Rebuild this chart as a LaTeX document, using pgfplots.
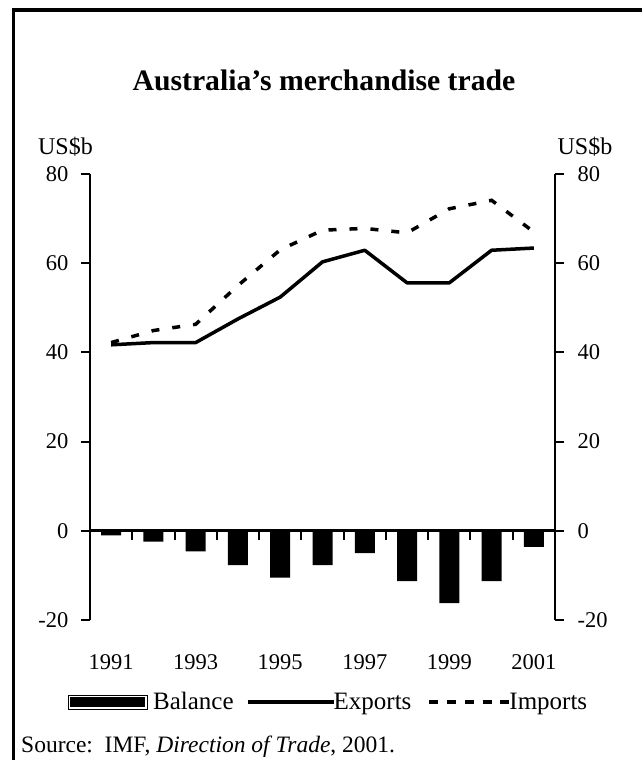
\documentclass[border=0pt]{standalone}
\usepackage{fontspec}
\setmainfont{Liberation Serif}
\usepackage{pgfplots}
\usepackage{pgfplotstable}
\pgfplotsset{compat=1.18}

\pgfplotstableread{
x bal exp imp
0 -1.0 41.7 42.2
1 -2.4 42.2 44.9
2 -4.6 42.2 46.3
3 -7.7 47.5 55.0
4 -10.5 52.4 63.0
5 -7.7 60.3 67.4
6 -5.0 62.9 67.8
7 -11.3 55.6 66.8
8 -16.2 55.6 72.2
9 -11.3 62.9 74.1
10 -3.6 63.4 67.0
}\datatable

\newcommand\rf{\fontsize{22.5}{27}\selectfont}
\newcommand\lf{\fontsize{25}{30}\selectfont}

\pgfplotsset{
  base/.style={
    scale only axis, width=465pt, height=446pt,
    at={(90pt,140pt)}, anchor=south west,
    xmin=-0.5, xmax=10.5, ymin=-20, ymax=80,
    /pgf/number format/assume math mode=true,
    tick label style={font=\rf},
    major tick length=9pt, tick align=outside,
    axis line style={line width=2pt},
    tick style={black, line width=2pt},
  }
}

\begin{document}
\begin{tikzpicture}[x=1pt,y=1pt]
\useasboundingbox (0,0) rectangle (642,760);
\draw[line width=3.5pt] (13.3,-2) -- (13.3,750) -- (644,750);

% zero line with category separators
\begin{axis}[base, axis x line*=middle, axis y line=none,
  xtick={0.5,1.5,2.5,3.5,4.5,5.5,6.5,7.5,8.5,9.5}, xticklabels={},
  axis line style={line width=2.6pt}]
\end{axis}

% right axis
\begin{axis}[base, axis y line*=right, axis x line=none,
  ytick={-20,0,20,40,60,80}, yticklabel style={xshift=10pt}]
\end{axis}

% main axis
\begin{axis}[base, axis y line*=left, axis x line*=bottom,
  x axis line style={draw=none}, xtick style={draw=none},
  xtick={0,2,4,6,8,10}, xticklabels={1991,1993,1995,1997,1999,2001},
  xticklabel style={yshift=-22pt},
  ytick={-20,0,20,40,60,80}, yticklabel style={xshift=-9pt},
  legend columns=3,
  legend style={draw=none, fill=none, font=\lf,
    at={(0.513,-0.184)}, anchor=center,
    /tikz/every even column/.append style={column sep=12pt}},
]
\addplot[ybar, bar width=20pt, fill=black, draw=none,
  legend image code/.code={
    \path[draw=none, fill=none] (0pt,-7pt) rectangle (83pt,7pt);
    \draw[black, line width=0.6pt, fill=none] (0pt,-7pt) rectangle (79pt,7pt);
    \fill[black, draw=none] (1.8pt,-5.2pt) rectangle (77.2pt,5.2pt);
  }] table[x=x,y=bal]{\datatable};
\addlegendentry{Balance}
\addplot[black, line width=3.5pt, line join=round,
  legend image code/.code={
    \path[draw=none, fill=none] (0pt,-7pt) rectangle (84pt,7pt);
    \draw[black, line width=3.5pt, solid, overlay] (0pt,0pt) -- (86pt,0pt);
  }] table[x=x,y=exp]{\datatable};
\addlegendentry{Exports}
\addplot[black, line width=3.5pt, dash pattern=on 8pt off 13pt,
  legend image code/.code={
    \path[draw=none, fill=none] (-4pt,-7pt) rectangle (78pt,7pt);
    \draw[black, line width=3.5pt, dash pattern=on 9pt off 8.75pt, overlay] (0pt,0pt) -- (80pt,0pt);
  }] table[x=x,y=imp]{\datatable};
\addlegendentry{Imports}
\end{axis}

\node[font=\bfseries\fontsize{29.7}{35}\selectfont, anchor=base] at (324,669) {Australia’s merchandise trade};
\node[font=\fontsize{24}{29}\selectfont, anchor=base] at (65.5,605) {US\$b};
\node[font=\fontsize{24}{29}\selectfont, anchor=base] at (585,605) {US\$b};
\node[font=\fontsize{23.5}{28}\selectfont, anchor=base west, inner sep=0pt] at (21,8) {Source:\ \ IMF, \textit{Direction of Trade}, 2001.};
\end{tikzpicture}
\end{document}
